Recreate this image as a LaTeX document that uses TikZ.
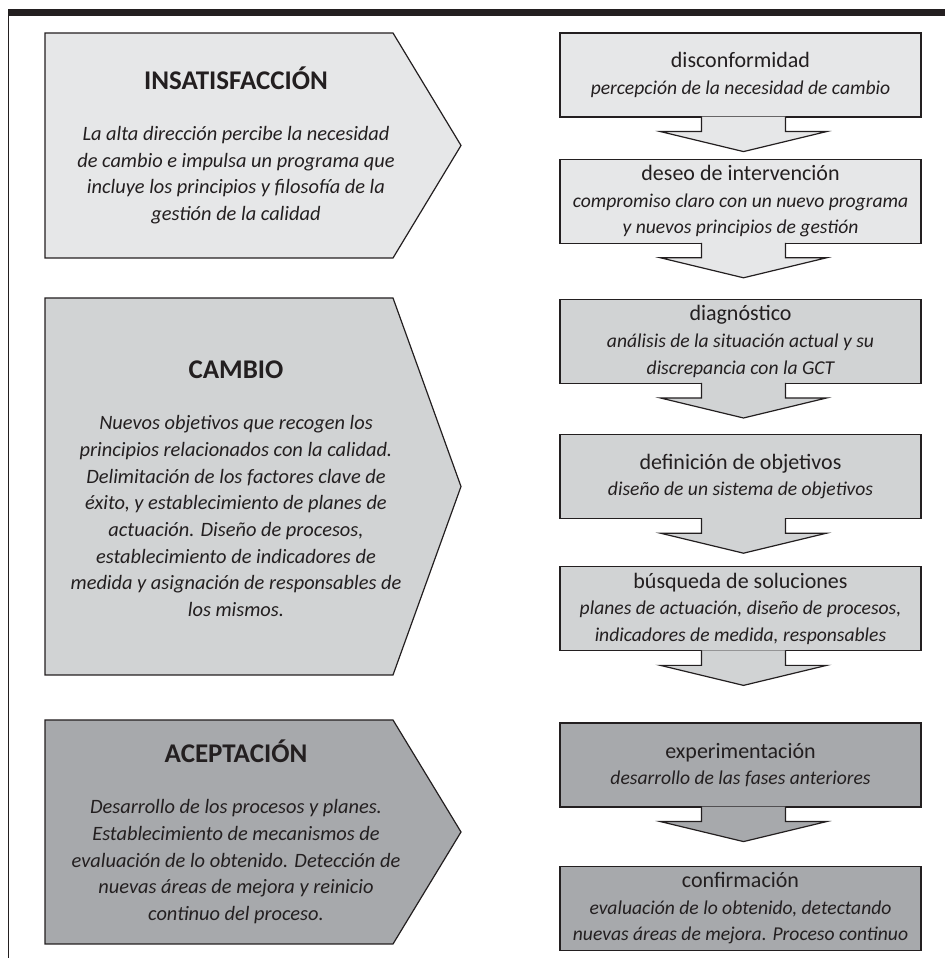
\documentclass[tikz,border=0pt]{standalone}
\usepackage{fontspec}
\setmainfont{Carlito}
\usepackage{xcolor}
\usetikzlibrary{positioning, calc}

\definecolor{ink}{HTML}{231F20}
\definecolor{greyA}{HTML}{E6E7E8}
\definecolor{greyB}{HTML}{D1D3D4}
\definecolor{greyC}{HTML}{A7A9AC}
\newcommand{\stagename}[1]{{\upshape\fontsize{11}{13.35}\selectfont #1}}
\newcommand{\phasename}[1]{{\upshape\bfseries\fontsize{13.5}{13.35}\selectfont #1}}

\begin{document}
\begin{tikzpicture}[
    x=0.5pt, y=0.5pt,
    box/.style={rectangle, draw=ink, line width=0.6pt, text=ink, minimum width=180.5pt, minimum height=42pt, inner sep=1pt, align=center, font=\fontsize{9.8}{13.35}\selectfont\itshape},
    stage/.style={draw=ink, line width=0.6pt},
    stagetext/.style={text=ink, align=center, font=\fontsize{10.2}{13.35}\selectfont\itshape},
    down/.style={draw=ink, line width=0.6pt}
]
\useasboundingbox (0,0) rectangle (945,958);
\fill[ink] (7.7,941.7) rectangle (945,948.7);
\draw[ink, line width=0.65pt] (8.5,942) -- (8.5,0);

\filldraw[stage, fill=greyA] (45,925) -- (393,925) -- (461,812.5) -- (393,700) -- (45,700) -- cycle;
\filldraw[stage, fill=greyB] (45,660) -- (393,660) -- (461,471.5) -- (393,283) -- (45,283) -- cycle;
\filldraw[stage, fill=greyC] (45,238) -- (393,238) -- (461,126) -- (393,14) -- (45,14) -- cycle;

\node[stagetext] (insat) at (236,812.5) {\phasename{INSATISFACCIÓN}\\[12pt]La alta dirección percibe la necesidad\\de cambio e impulsa un programa que\\incluye los principios y filosofía de la\\gestión de la calidad};
\node[stagetext] (cambio) at (236,469) {\phasename{CAMBIO}\\[12pt]Nuevos objetivos que recogen los\\principios relacionados con la calidad.\\Delimitación de los factores clave de\\éxito, y establecimiento de planes de\\actuación. Diseño de procesos,\\establecimiento de indicadores de\\medida y asignación de responsables de\\los mismos.};
\node[stagetext] (acept) at (236,126) {\phasename{ACEPTACIÓN}\\[12pt]Desarrollo de los procesos y planes.\\Establecimiento de mecanismos de\\evaluación de lo obtenido. Detección de\\nuevas áreas de mejora y reinicio\\continuo del proceso.};

\node[box, fill=greyA] (disc) at (740.5,883) {\stagename{disconformidad}\\percepción de la necesidad de cambio};
\node[box, fill=greyA, below=20.5pt of disc] (deseo) {\stagename{deseo de intervención}\\compromiso claro con un nuevo programa\\y nuevos principios de gestión};
\node[box, fill=greyB, below=27.5pt of deseo] (diag) {\stagename{diagnóstico}\\análisis de la situación actual y su\\discrepancia con la GCT};
\node[box, fill=greyB, below=25pt of diag] (defobj) {\stagename{definición de objetivos}\\diseño de un sistema de objetivos};
\node[box, fill=greyB, below=23.5pt of defobj] (busq) {\stagename{búsqueda de soluciones}\\planes de actuación, diseño de procesos,\\indicadores de medida, responsables};
\node[box, fill=greyC, below=35.5pt of busq] (exper) {\stagename{experimentación}\\desarrollo de las fases anteriores};
\node[box, fill=greyC, below=29pt of exper] (confirm) {\stagename{confirmación}\\evaluación de lo obtenido, detectando\\nuevas áreas de mejora. Proceso continuo};

\filldraw[down, fill=greyA] ($(disc.south)+(-39,1)$) -- ++(0,-15) -- ++(-41,0) -- ($(disc.south)+(3,-34)$) -- ($(disc.south)+(86,-14)$) -- ++(-41,0) -- ++(0,15);
\filldraw[down, fill=greyA] ($(deseo.south)+(-39,1)$) -- ++(0,-15) -- ++(-41,0) -- ($(deseo.south)+(3,-34)$) -- ($(deseo.south)+(86,-14)$) -- ++(-41,0) -- ++(0,15);
\filldraw[down, fill=greyB] ($(diag.south)+(-39,1)$) -- ++(0,-15) -- ++(-41,0) -- ($(diag.south)+(3,-34)$) -- ($(diag.south)+(86,-14)$) -- ++(-41,0) -- ++(0,15);
\filldraw[down, fill=greyB] ($(defobj.south)+(-39,1)$) -- ++(0,-15) -- ++(-41,0) -- ($(defobj.south)+(3,-34)$) -- ($(defobj.south)+(86,-14)$) -- ++(-41,0) -- ++(0,15);
\filldraw[down, fill=greyB] ($(busq.south)+(-39,1)$) -- ++(0,-15) -- ++(-41,0) -- ($(busq.south)+(3,-34)$) -- ($(busq.south)+(86,-14)$) -- ++(-41,0) -- ++(0,15);
\filldraw[down, fill=greyC] ($(exper.south)+(-39,1)$) -- ++(0,-15) -- ++(-41,0) -- ($(exper.south)+(3,-34)$) -- ($(exper.south)+(86,-14)$) -- ++(-41,0) -- ++(0,15);
\end{tikzpicture}
\end{document}
